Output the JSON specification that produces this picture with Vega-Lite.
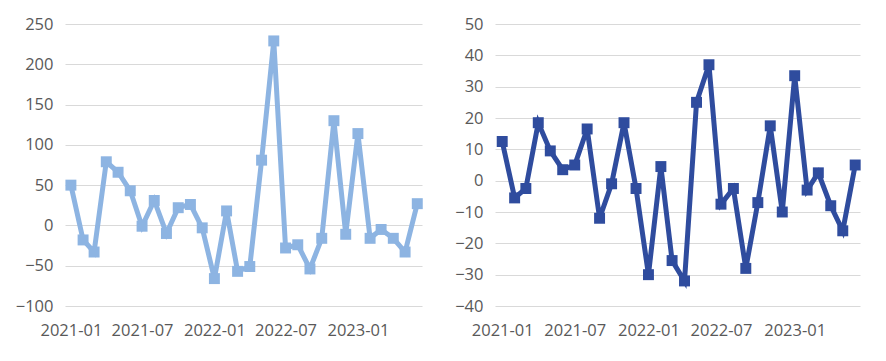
{
  "$schema": "https://vega.github.io/schema/vega-lite/v6.json",
  "background": "white",
  "padding": {"left": 15, "top": 16, "right": 10, "bottom": 5},
  "spacing": 22,
  "config": {
    "view": {"stroke": null},
    "font": "Open Sans",
    "axis": {
      "labelColor": "#595959",
      "labelFontSize": 16.5,
      "labelFont": "Open Sans",
      "domain": false,
      "ticks": false,
      "title": null,
      "gridColor": "#d9d9d9",
      "gridWidth": 1
    }
  },
  "datasets": {
    "s": [
      {"month": "2021-01-01", "a": 50, "b": 12.5},
      {"month": "2021-02-01", "a": -18, "b": -5.5},
      {"month": "2021-03-01", "a": -33, "b": -2.5},
      {"month": "2021-04-01", "a": 79, "b": 18.5},
      {"month": "2021-05-01", "a": 66, "b": 9.5},
      {"month": "2021-06-01", "a": 43, "b": 3.5},
      {"month": "2021-07-01", "a": -1, "b": 5},
      {"month": "2021-08-01", "a": 31, "b": 16.5},
      {"month": "2021-09-01", "a": -10, "b": -12},
      {"month": "2021-10-01", "a": 22, "b": -1},
      {"month": "2021-11-01", "a": 26, "b": 18.5},
      {"month": "2021-12-01", "a": -3, "b": -2.5},
      {"month": "2022-01-01", "a": -66, "b": -30},
      {"month": "2022-02-01", "a": 18, "b": 4.5},
      {"month": "2022-03-01", "a": -57, "b": -25.5},
      {"month": "2022-04-01", "a": -51, "b": -32},
      {"month": "2022-05-01", "a": 81, "b": 25},
      {"month": "2022-06-01", "a": 229, "b": 37},
      {"month": "2022-07-01", "a": -28, "b": -7.5},
      {"month": "2022-08-01", "a": -24, "b": -2.5},
      {"month": "2022-09-01", "a": -54, "b": -28},
      {"month": "2022-10-01", "a": -16, "b": -7},
      {"month": "2022-11-01", "a": 130, "b": 17.5},
      {"month": "2022-12-01", "a": -11, "b": -10},
      {"month": "2023-01-01", "a": 114, "b": 33.5},
      {"month": "2023-02-01", "a": -16, "b": -3},
      {"month": "2023-03-01", "a": -5, "b": 2.5},
      {"month": "2023-04-01", "a": -16, "b": -8},
      {"month": "2023-05-01", "a": -33, "b": -16},
      {"month": "2023-06-01", "a": 27, "b": 5}
    ]
  },
  "hconcat": [
    {
      "width": 357,
      "height": 282,
      "data": {"name": "s"},
      "mark": {"type": "line", "color": "#8db4e2", "strokeWidth": 5, "point": {"shape": "square", "size": 120, "filled": true, "color": "#8db4e2", "opacity": 1}},
      "encoding": {
        "x": {"field": "month", "type": "temporal",
              "scale": {"domain": ["2020-12-17", "2023-06-13"]},
              "axis": {"grid": false, "format": "%Y-%m", "values": ["2021-01-01", "2021-07-01", "2022-01-01", "2022-07-01", "2023-01-01"], "labelPadding": 16, "labelFlush": false}},
        "y": {"field": "a", "type": "quantitative",
              "scale": {"domain": [-100, 250], "nice": false},
              "axis": {"values": [-100, -50, 0, 50, 100, 150, 200, 250], "labelPadding": 12, "minExtent": 45, "maxExtent": 45}}
      }
    },
    {
      "width": 365,
      "height": 282,
      "data": {"name": "s"},
      "mark": {"type": "line", "color": "#2f4c9e", "strokeWidth": 5, "point": {"shape": "square", "size": 120, "filled": true, "color": "#2f4c9e", "opacity": 1}},
      "encoding": {
        "x": {"field": "month", "type": "temporal",
              "scale": {"domain": ["2020-12-14", "2023-06-13"]},
              "axis": {"grid": false, "format": "%Y-%m", "values": ["2021-01-01", "2021-07-01", "2022-01-01", "2022-07-01", "2023-01-01"], "labelPadding": 16, "labelFlush": false}},
        "y": {"field": "b", "type": "quantitative",
              "scale": {"domain": [-40, 50], "nice": false},
              "axis": {"values": [-40, -30, -20, -10, 0, 10, 20, 30, 40, 50], "labelPadding": 12, "minExtent": 45, "maxExtent": 45}}
      }
    }
  ]
}
